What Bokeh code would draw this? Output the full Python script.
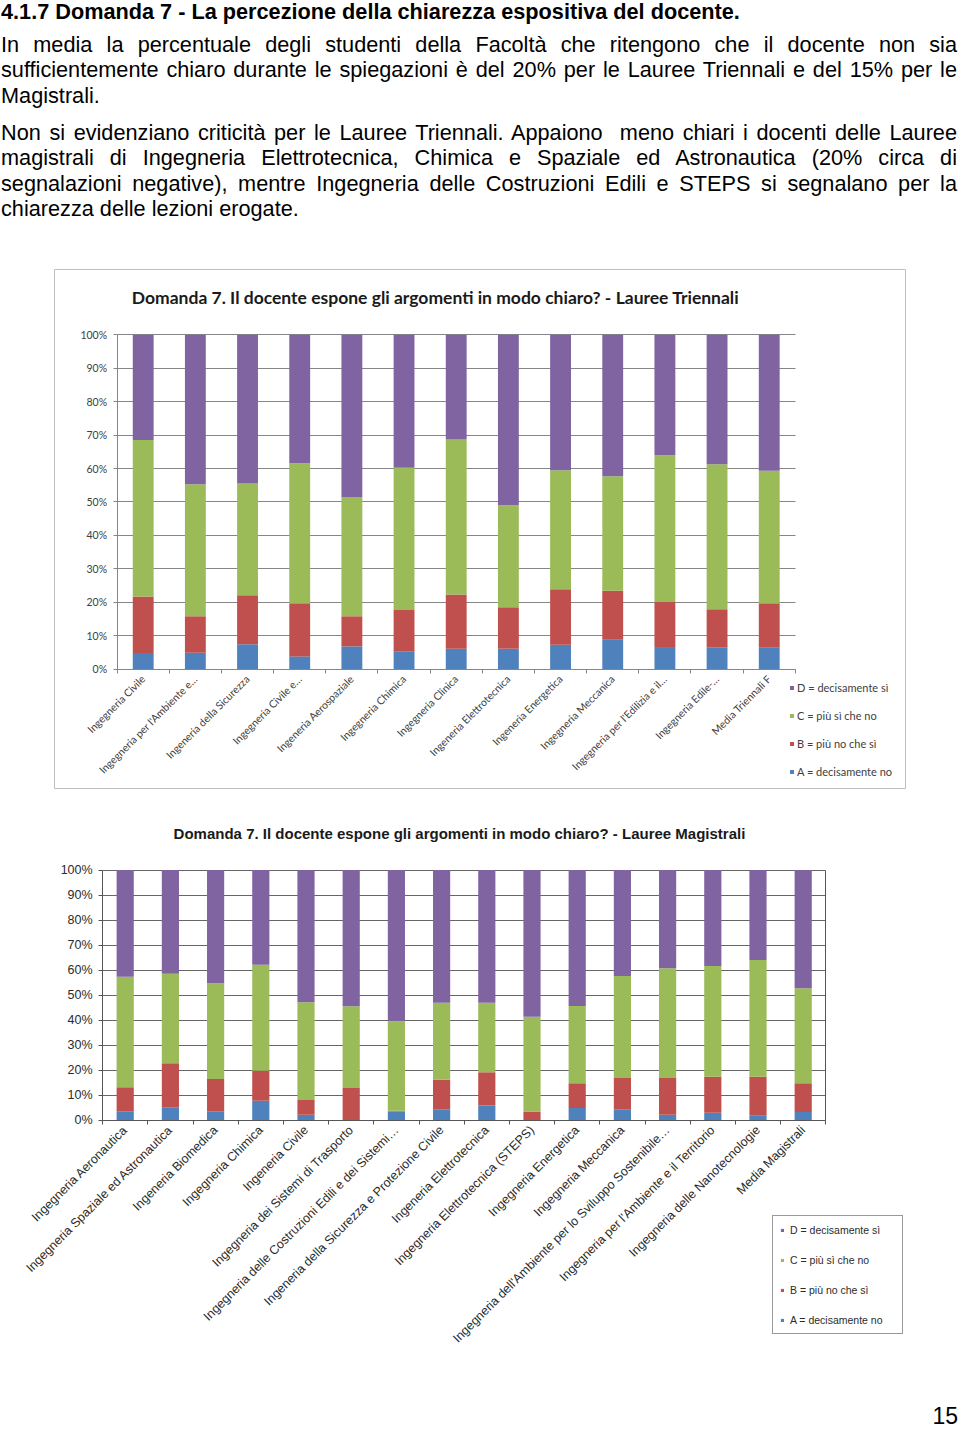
import math
from bokeh.plotting import figure
from bokeh.models import (Range1d, FixedTicker, Legend, LegendItem, Div, Label, Grid,
                          PrintfTickFormatter, ColumnDataSource, LinearAxis)
from bokeh.layouts import column
from bokeh.embed import file_html
from bokeh.resources import INLINE

# ---------------- text ----------------
heading = "4.1.7 Domanda 7 - La percezione della chiarezza espositiva del docente."
para1_lines = [
    "In media la percentuale degli studenti della Facoltà che ritengono che il docente non sia",
    "sufficientemente chiaro durante le spiegazioni è del 20% per le Lauree Triennali e del 15% per le",
    "Magistrali.",
]
para2_lines = [
    "Non si evidenziano criticità per le Lauree Triennali. Appaiono&nbsp; meno chiari i docenti delle Lauree",
    "magistrali di Ingegneria Elettrotecnica, Chimica e Spaziale ed Astronautica (20% circa di",
    "segnalazioni negative), mentre Ingegneria delle Costruzioni Edili e STEPS si segnalano per la",
    "chiarezza delle lezioni erogate.",
]
page_number = "15"

# ---------------- data ----------------
series_labels = ["A = decisamente no", "B = più no che sì", "C = più sì che no", "D = decisamente sì"]
series_colors = ["#4F81BD", "#C0504D", "#9BBB59", "#8064A2"]
y_ticks = list(range(0, 101, 10))

tri_title = "Domanda 7. Il docente espone gli argomenti in modo chiaro? - Lauree Triennali"
tri_cats = [
    "Ingegneria Civile",
    "Ingegneria per l'Ambiente e…",
    "Ingeneria della Sicurezza",
    "Ingegneria Civile e…",
    "Ingeneria Aerospaziale",
    "Ingegneria Chimica",
    "Ingegneria Clinica",
    "Ingeneria Elettrotecnica",
    "Ingeneria Energetica",
    "Ingegneria Meccanica",
    "Ingegneria per l'Edilizia e il…",
    "Ingegneria Edile-…",
    "Media Triennali F",
]
tri_A = [4.8, 4.9, 7.4, 3.8, 6.8, 5.3, 6.1, 6.1, 7.3, 8.8, 6.6, 6.4, 6.4]
tri_B = [16.9, 10.9, 14.7, 15.9, 9.0, 12.4, 16.2, 12.4, 16.6, 14.6, 13.5, 11.5, 13.3]
tri_C = [46.8, 39.5, 33.4, 41.9, 35.7, 42.5, 46.4, 30.5, 35.6, 34.3, 43.9, 43.4, 39.6]
tri_D = [31.5, 44.7, 44.5, 38.4, 48.5, 39.8, 31.3, 51.0, 40.5, 42.3, 36.0, 38.7, 40.7]

mag_title = "Domanda 7. Il docente espone gli argomenti in modo chiaro? - Lauree Magistrali"
mag_cats = [
    "Ingegneria Aeronautica",
    "Ingegneria Spaziale ed Astronautica",
    "Ingeneria Biomedica",
    "Ingegneria Chimica",
    "Ingeneria Civile",
    "Ingegneria dei Sistemi di Trasporto",
    "Ingegneria delle Costruzioni Edili e dei Sistemi…",
    "Ingeneria della Sicurezza e Protezione Civile",
    "Ingeneria Elettrotecnica",
    "Ingegneria Elettrotecnica (STEPS)",
    "Ingegneria Energetica",
    "Ingegneria Meccanica",
    "Ingegneria dell'Ambiente per lo Sviluppo Sostenibile…",
    "Ingegneria per l'Ambiente e il Territorio",
    "Ingegneria delle Nanotecnologie",
    "Media Magistrali",
]
mag_A = [3.5, 5.1, 3.5, 7.7, 2.1, 0.0, 3.4, 4.3, 5.8, 0.0, 4.8, 4.3, 2.1, 2.9, 1.7, 3.2]
mag_B = [9.6, 17.6, 12.9, 12.0, 5.9, 12.8, 0.3, 11.8, 13.3, 3.4, 9.9, 12.5, 14.7, 14.4, 15.6, 11.5]
mag_C = [44.2, 35.8, 38.3, 42.4, 39.1, 32.7, 35.8, 30.8, 27.8, 37.9, 30.9, 40.8, 43.9, 44.3, 46.7, 38.0]
mag_D = [42.7, 41.5, 45.3, 37.9, 52.9, 54.5, 60.5, 53.1, 53.1, 58.7, 54.4, 42.4, 39.3, 38.4, 36.0, 47.3]

HAS_CROSS = "cross_bounds" in Grid.properties()

# ---------------- text block ----------------
FONT_TXT = "'Liberation Sans', Arial, sans-serif"
TS = 21.7
LH = 25.3


def line_html(txt, top, justify=True, bold=False, lh=LH):
    align = "text-align:justify;text-align-last:justify;" if justify else "text-align:left;"
    weight = "font-weight:bold;" if bold else ""
    return (f'<div style="position:absolute;left:-4px;top:{top}px;width:956px;'
            f'font-family:{FONT_TXT};font-size:{TS}px;line-height:{lh}px;color:#000;'
            f'{align}{weight}">{txt}</div>')


TEXT_H = 259
parts = [line_html(heading, -3, justify=False, bold=True, lh=20)]
for i, t in enumerate(para1_lines):
    parts.append(line_html(t, round(27 + i * LH, 1), justify=(i < len(para1_lines) - 1)))
for i, t in enumerate(para2_lines):
    parts.append(line_html(t, round(115 + i * LH, 1), justify=(i < len(para2_lines) - 1)))
text_div = Div(text=f'<div style="position:relative;width:944px;height:{TEXT_H}px;">' + "".join(parts) + "</div>",
               width=944, height=TEXT_H)


def style_axes(p, xaxis, yaxis, cats, font, fsize, tcolor, acolor):
    n = len(cats)
    xaxis.ticker = FixedTicker(ticks=list(range(n)), minor_ticks=[i - 0.5 for i in range(n + 1)])
    xaxis.major_label_overrides = {i: c for i, c in enumerate(cats)}
    xaxis.major_label_orientation = math.pi / 4
    xaxis.major_tick_line_color = None
    xaxis.major_tick_out = 3
    xaxis.major_label_standoff = 4
    xaxis.minor_tick_line_color = acolor
    xaxis.minor_tick_out = 4
    xaxis.minor_tick_in = 0
    xaxis.axis_line_color = acolor
    xaxis.major_label_text_font = font
    xaxis.major_label_text_font_size = fsize
    xaxis.major_label_text_color = tcolor
    xaxis.fixed_location = 0
    xaxis.bounds = (-0.5, n - 0.5)

    yaxis.ticker = FixedTicker(ticks=y_ticks, minor_ticks=[])
    yaxis.formatter = PrintfTickFormatter(format="%d%%")
    yaxis.major_tick_out = 4
    yaxis.major_tick_in = 0
    yaxis.minor_tick_line_color = None
    yaxis.axis_line_color = acolor
    yaxis.major_tick_line_color = acolor
    yaxis.major_label_standoff = 6
    yaxis.major_label_text_font = font
    yaxis.major_label_text_font_size = fsize
    yaxis.major_label_text_color = tcolor
    yaxis.fixed_location = -0.5
    yaxis.bounds = (0, 100)


def gridlines(p, n, color):
    p.xgrid.visible = False
    if HAS_CROSS:
        p.ygrid.grid_line_color = color
        p.ygrid.cross_bounds = (-0.5, n - 0.5)
    else:
        p.ygrid.visible = False
        p.segment(x0=[-0.5] * len(y_ticks), x1=[n - 0.5] * len(y_ticks), y0=y_ticks, y1=y_ticks,
                  line_color=color, line_width=1, level="underlay")


CANVAS_W = 944

# ---------------- chart 1 (Triennali) ----------------
F1_LEFT, F1_RIGHT = 54, 905          # boxed chart area (page pixels)
C1_TOP, C1_BOT = 269, 789
C1_X0, C1_STEP = 142.7, 52.17       # first category centre / category pitch
C1_Y0, C1_Y100 = 668.6, 334.3       # pixel rows of 0% and 100%
k1 = (C1_Y0 - C1_Y100) / 100.0
n1 = len(tri_cats)

p1 = figure(width=CANVAS_W, height=C1_BOT - C1_TOP, output_backend="svg", toolbar_location=None,
            x_range=Range1d((F1_LEFT - C1_X0) / C1_STEP, (F1_RIGHT - C1_X0) / C1_STEP),
            y_range=Range1d(-(C1_BOT - C1_Y0) / k1, 100 + (C1_Y100 - C1_TOP) / k1),
            min_border_left=F1_LEFT, min_border_right=CANVAS_W - F1_RIGHT,
            min_border_top=0, min_border_bottom=0)
p1.outline_line_color = "#c0c0c0"
p1.outline_line_width = 1
src1 = ColumnDataSource(dict(x=list(range(n1)), A=tri_A, B=tri_B, C=tri_C, D=tri_D))
rs1 = p1.vbar_stack(["A", "B", "C", "D"], x="x", width=0.4, fill_color=series_colors,
                    line_color=None, source=src1)
style_axes(p1, p1.xaxis[0], p1.yaxis[0], tri_cats, "Lato", "10.5px", "#404040", "#868686")
gridlines(p1, n1, "#868686")

p1.add_layout(Label(x=(435 - C1_X0) / C1_STEP, y=100 + (C1_Y100 - 297) / k1, text=tri_title,
                    text_align="center", text_baseline="middle", text_font="Lato",
                    text_font_size="17.5px", text_font_style="bold", text_color="#1a1a1a"))

leg1 = Legend(items=[LegendItem(label=series_labels[i], renderers=[rs1[i]]) for i in (3, 2, 1, 0)],
              location=(789 - F1_LEFT, C1_BOT - 778), orientation="vertical",
              glyph_width=5, glyph_height=5, label_standoff=3, label_height=14, spacing=14,
              padding=0, margin=0, border_line_color=None, background_fill_alpha=0,
              label_text_font="Lato", label_text_font_size="11px", label_text_color="#404040")
p1.add_layout(leg1)

# ---------------- chart 2 (Magistrali) ----------------
F2_LEFT, F2_RIGHT = 0, 944
C2_TOP, C2_BOT = 789, 1394
C2_X0, C2_STEP = 124.7, 45.2
C2_Y0, C2_Y100 = 1119.5, 869.5
k2 = (C2_Y0 - C2_Y100) / 100.0
n2 = len(mag_cats)

p2 = figure(width=CANVAS_W, height=C2_BOT - C2_TOP, output_backend="svg", toolbar_location=None,
            x_range=Range1d((F2_LEFT - C2_X0) / C2_STEP, (F2_RIGHT - C2_X0) / C2_STEP),
            y_range=Range1d(-(C2_BOT - C2_Y0) / k2, 100 + (C2_Y100 - C2_TOP) / k2),
            min_border_left=F2_LEFT, min_border_right=CANVAS_W - F2_RIGHT,
            min_border_top=0, min_border_bottom=0)
p2.outline_line_color = None
src2 = ColumnDataSource(dict(x=list(range(n2)), A=mag_A, B=mag_B, C=mag_C, D=mag_D))
rs2 = p2.vbar_stack(["A", "B", "C", "D"], x="x", width=0.38, fill_color=series_colors,
                    line_color=None, source=src2)
style_axes(p2, p2.xaxis[0], p2.yaxis[0], mag_cats, "Liberation Sans", "12.5px", "#2b2b2b", "#555555")
gridlines(p2, n2, "#666666")

right_axis = LinearAxis(fixed_location=n2 - 0.5, bounds=(0, 100), ticker=FixedTicker(ticks=[], minor_ticks=[]),
                        axis_line_color="#555555", major_tick_line_color=None,
                        minor_tick_line_color=None, major_label_text_alpha=0)
p2.add_layout(right_axis, "right")

p2.add_layout(Label(x=(459 - C2_X0) / C2_STEP, y=100 + (C2_Y100 - 833) / k2, text=mag_title,
                    text_align="center", text_baseline="middle", text_font="Liberation Sans",
                    text_font_size="15px", text_font_style="bold", text_color="#1a1a1a"))

leg2 = Legend(items=[LegendItem(label=series_labels[i], renderers=[rs2[i]]) for i in (3, 2, 1, 0)],
              location=(772 - F2_LEFT, C2_BOT - 1334), orientation="vertical",
              glyph_width=4, glyph_height=4, label_standoff=6, label_height=13, spacing=17,
              label_width=105, padding=7, margin=0, border_line_color="#333333",
              border_line_width=1, background_fill_color="white",
              label_text_font="Liberation Sans", label_text_font_size="10.5px",
              label_text_color="#2b2b2b")
p2.add_layout(leg2)

num_div = Div(text=f'<div style="position:relative;left:9px;top:6px;width:944px;text-align:right;'
                   f'font-family:{FONT_TXT};font-size:23px;line-height:23px;color:#000;">{page_number}</div>',
              width=944, height=27)

layout = column(text_div, column(p1), column(p2), num_div, spacing=0)

with open("out.html", "w") as f:
    f.write(file_html(layout, INLINE))
